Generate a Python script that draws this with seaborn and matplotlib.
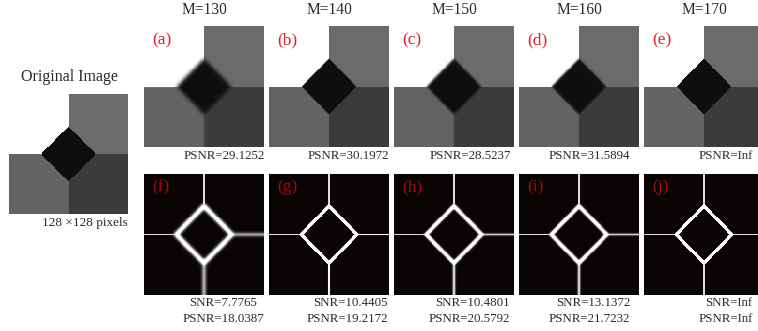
import numpy as np
import matplotlib
matplotlib.use('Agg')
import matplotlib.pyplot as plt
import seaborn as sns
from matplotlib.colors import LinearSegmentedColormap

# ------------------------------------------------------------------
# Values
# ------------------------------------------------------------------
n_pix = 128
diamond_r = 30
quad_levels = [1.00, 0.40, 0.37, 0.21]   # top-left, top-right, bottom-left, bottom-right
diamond_level = 0.03

m_values = [130, 140, 150, 160, 170]
top_labels = ['(a)', '(b)', '(c)', '(d)', '(e)']
bot_labels = ['(f)', '(g)', '(h)', '(i)', '(j)']
top_psnr = ['29.1252', '30.1972', '28.5237', '31.5894', 'Inf']
bot_snr = ['7.7765', '10.4405', '10.4801', '13.1372', 'Inf']
bot_psnr = ['18.0387', '19.2172', '20.5792', '21.7232', 'Inf']

# how soft each reconstruction / edge map looks
recon_blur = [1.9, 0.5, 1.2, 1.0, 0.0]
edge_blur = [1.6, 0.4, 0.9, 0.9, 0.0]
edge_width = [4.2, 3.2, 3.6, 3.6, 3.8]
line_half = 1.2
line_level = 0.86

# ------------------------------------------------------------------
# helpers
# ------------------------------------------------------------------
yy, xx = np.mgrid[0:n_pix, 0:n_pix] + 0.5
c = n_pix / 2


def blur(img, s):
    if s <= 0:
        return img
    n = int(3 * s) + 1
    k = np.arange(-n, n + 1)
    g = np.exp(-k ** 2 / (2 * s * s)); g /= g.sum()
    p = np.pad(img, n, mode='edge')
    rows = sum(g[i] * p[:, i:i + n_pix] for i in range(len(g)))
    return sum(g[i] * rows[i:i + n_pix, :] for i in range(len(g)))


def quadrants():
    img = np.empty((n_pix, n_pix))
    img[(yy < c) & (xx < c)] = quad_levels[0]
    img[(yy < c) & (xx >= c)] = quad_levels[1]
    img[(yy >= c) & (xx < c)] = quad_levels[2]
    img[(yy >= c) & (xx >= c)] = quad_levels[3]
    return img


def recon(s):
    mask = (np.abs(xx - c) + np.abs(yy - c) < diamond_r).astype(float)
    mask = np.clip(blur(mask, s), 0, 1)
    q = quadrants()
    if s > 0:
        soft = blur(q, s * 0.6)
        q = np.where(yy > c, soft, q)   # lower boundary looks softer
    return q * (1 - mask) + diamond_level * mask


def edges(w, s):
    d = np.abs(np.abs(xx - c) + np.abs(yy - c) - diamond_r) / np.sqrt(2)
    outside = np.abs(xx - c) + np.abs(yy - c) > diamond_r
    sharp = np.zeros((n_pix, n_pix))
    soft = np.zeros((n_pix, n_pix))
    sharp[(np.abs(xx - c) < line_half) & outside & (yy < c)] = line_level
    sharp[(np.abs(yy - c) < line_half) & outside & (xx < c)] = line_level
    soft[(np.abs(xx - c) < line_half) & outside & (yy > c)] = line_level
    soft[(np.abs(yy - c) < line_half) & outside & (xx > c)] = line_level
    soft[d < w / 2] = 1.0
    soft = np.clip(blur(soft, s) * (1 + s * 0.4), 0, 1)
    return np.maximum(sharp, soft)


gray = LinearSegmentedColormap.from_list('g', [(0.03, 0.03, 0.03), (1, 1, 1)])
dark = LinearSegmentedColormap.from_list('d', [(0.04, 0.02, 0.02), (1, 1, 1)])

W, H = 758, 331
fig = plt.figure(figsize=(W / 100, H / 100), dpi=100)
plt.rcParams['font.family'] = ['Liberation Serif', 'DejaVu Serif']


def panel(x, y, w, h, img, cmap):
    ax = fig.add_axes([x / W, 1 - (y + h) / H, w / W, h / H])
    sns.heatmap(img, cmap=cmap, vmin=0, vmax=1, cbar=False,
                xticklabels=False, yticklabels=False, ax=ax, rasterized=True)
    ax.tick_params(left=False, bottom=False)
    return ax


txt = '#2a2a2a'
red_top = '#e41b2c'
red_bot = '#a00a0a'

# original image
panel(9, 94, 119, 120, recon(0), gray)
fig.text(69 / W, 1 - 77 / H, 'Original Image', ha='center', va='center',
         fontsize=11.5, color=txt)
fig.text(128 / W, 1 - 223 / H, '128 \u00d7128 pixels', ha='right', va='center',
         fontsize=9.5, color=txt)

x0 = [144, 269, 394, 519, 644]
pw, ph = 120, 121
top_right = [265, 389, 511, 630, 753]
snr_right = [257, 388, 510, 630, 752]
psnr_right = [264, 388, 510, 630, 753]

for i in range(5):
    panel(x0[i], 26, pw, ph, recon(recon_blur[i]), gray)
    fig.text((x0[i] + pw / 2) / W, 1 - 10 / H, f'M={m_values[i]}',
             ha='center', va='center', fontsize=11.2, color=txt)
    fig.text((x0[i] + 8) / W, 1 - 40 / H, top_labels[i], ha='left', va='center',
             fontsize=12.5, color=red_top)
    fig.text(top_right[i] / W, 1 - 156 / H, f'PSNR={top_psnr[i]}', ha='right',
             va='center', fontsize=9.3, color=txt)

    panel(x0[i], 174, pw, ph, edges(edge_width[i], edge_blur[i]), dark)
    fig.text((x0[i] + 8) / W, 1 - 187 / H, bot_labels[i], ha='left', va='center',
             fontsize=12.5, color=red_bot)
    fig.text(snr_right[i] / W, 1 - 303 / H, f'SNR={bot_snr[i]}', ha='right',
             va='center', fontsize=9.3, color=txt)
    fig.text(psnr_right[i] / W, 1 - 319 / H, f'PSNR={bot_psnr[i]}', ha='right',
             va='center', fontsize=9.3, color=txt)

fig.savefig('out.png', dpi=100)
